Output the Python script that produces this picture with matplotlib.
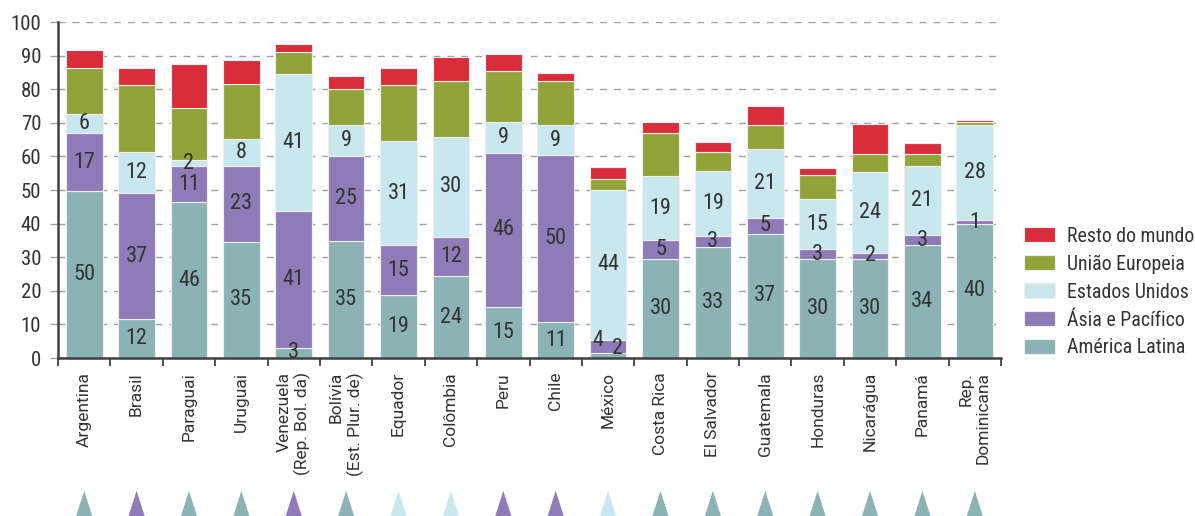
import matplotlib
matplotlib.use("Agg")
import matplotlib.pyplot as plt
import numpy as np

countries = [
    "Argentina", "Brasil", "Paraguai", "Uruguai", "Venezuela\n(Rep. Bol. da)",
    "Bolívia\n(Est. Plur. de)", "Equador", "Colômbia", "Peru", "Chile", "México",
    "Costa Rica", "El Salvador", "Guatemala", "Honduras", "Nicarágua", "Panamá",
    "Rep.\nDominicana",
]

america_latina = [49.6, 11.7, 46.3, 34.6, 3.1, 34.7, 18.7, 24.3, 15.2, 10.6, 1.6,
                  29.6, 32.9, 37.0, 29.6, 29.6, 33.6, 39.9]
asia_pacifico = [17.3, 37.3, 10.7, 22.6, 40.7, 25.3, 14.8, 11.6, 45.9, 49.9, 3.9,
                 5.4, 3.4, 4.6, 2.7, 1.6, 2.9, 1.1]
estados_unidos = [5.7, 12.4, 1.8, 8.1, 40.6, 9.2, 31.1, 30.0, 9.2, 8.7, 44.4,
                  19.2, 19.4, 20.7, 15.0, 24.2, 20.7, 28.2]
uniao_europeia = [13.8, 19.9, 15.6, 16.1, 6.8, 11.0, 16.7, 16.6, 15.0, 13.2, 3.5,
                  12.8, 5.7, 6.9, 7.1, 5.2, 3.5, 1.1]
resto_mundo = [5.2, 5.1, 13.2, 7.4, 2.3, 3.8, 5.1, 7.0, 5.3, 2.3, 3.3,
               3.3, 2.9, 5.7, 2.1, 9.1, 3.4, 0.6]

series = [
    ("América Latina", america_latina, "#8bb3b5", True),
    ("Ásia e Pacífico", asia_pacifico, "#8e7bb8", True),
    ("Estados Unidos", estados_unidos, "#c9e7ef", True),
    ("União Europeia", uniao_europeia, "#92a33a", False),
    ("Resto do mundo", resto_mundo, "#d92d3b", False),
]

num_font = ["Roboto Condensed", "Archivo Narrow", "Liberation Sans", "DejaVu Sans"]
txt = "#333333"
axis_col = "#404040"
grid_col = "#a0a0a0"

fig = plt.figure(figsize=(11.95, 5.16), dpi=100)
ax = fig.add_axes([58 / 1195, 1 - 358 / 516, (1001 - 58) / 1195, 336 / 516])

x = np.arange(len(countries))
bottom = np.zeros(len(countries))
handles = []
for name, vals, color, labelled in series:
    vals = np.array(vals)
    bars = ax.bar(x, vals, width=0.7, bottom=bottom, color=color,
                  edgecolor="#f2eeee", linewidth=0.8, label=name, zorder=2)
    handles.append(bars)
    if labelled:
        for i, (v, b) in enumerate(zip(vals, bottom)):
            xi, yi = x[i], b + v / 2
            # México: small segments, labels pushed aside
            if countries[i] == "México" and name == "América Latina":
                xi, yi = x[i] + 0.18, 2.8
            elif countries[i] == "México" and name == "Ásia e Pacífico":
                xi, yi = x[i] - 0.2, 5.3
            ax.text(xi, yi, f"{int(np.rint(v))}", ha="center", va="center",
                    fontsize=16, color=txt, family=num_font, zorder=3)
    bottom += vals

# triangles: dominant partner of each country
stack = np.array([s[1] for s in series[:3]])
tri_colors = [series[k][2] for k in stack.argmax(axis=0)]
tri = [(0, 1), (-0.64, -1), (0.64, -1)]
ax.scatter(x, np.full(len(x), -0.455), marker=tri, s=830, c=tri_colors,
           transform=ax.get_xaxis_transform(), clip_on=False, linewidths=0)

ax.set_xlim(-0.5, len(countries) - 0.5)
ax.set_ylim(0, 100)
ax.set_yticks(np.arange(0, 101, 10))
ax.yaxis.grid(True, linestyle=(0, (5, 5)), color=grid_col, linewidth=1)
ax.set_axisbelow(True)

ax.set_xticks(np.arange(-0.5, len(countries)), labels=[])
ax.set_xticks(x, labels=countries, minor=True)
ax.tick_params(axis="x", which="major", length=6, width=1.3, color=axis_col)
ax.tick_params(axis="x", which="minor", length=0, pad=10)
for lab in ax.get_xticklabels(minor=True):
    lab.set_rotation(90)
    lab.set_va("top")
    lab.set_ha("center")
    lab.set_multialignment("right")
    lab.set_family("Roboto")
    lab.set_fontsize(12.5)
    lab.set_color(txt)

ax.tick_params(axis="y", length=6, width=1, color=grid_col, pad=6,
               labelsize=15, labelcolor=txt)
for lab in ax.get_yticklabels():
    lab.set_family(num_font)

for side in ("top", "right"):
    ax.spines[side].set_visible(False)
for side in ("left", "bottom"):
    ax.spines[side].set_color(axis_col)
    ax.spines[side].set_linewidth(1.8)

leg = fig.legend(handles[::-1], [s[0] for s in series][::-1],
                 loc="center left", bbox_to_anchor=(1024 / 1195, 1 - 292 / 516),
                 frameon=False, borderpad=0, borderaxespad=0,
                 handlelength=1.55, handleheight=0.75, labelspacing=0.45,
                 handletextpad=0.6, prop={"family": num_font, "size": 14.3})
for t in leg.get_texts():
    t.set_color(txt)

fig.savefig("out.png", dpi=100)
